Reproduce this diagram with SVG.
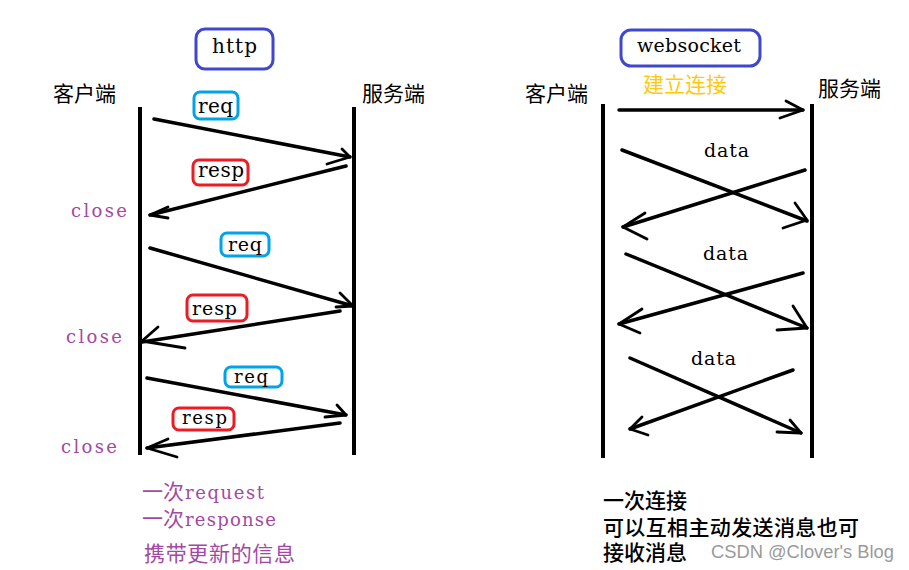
<svg xmlns="http://www.w3.org/2000/svg" width="909" height="570" viewBox="0 0 909 570">
<style>
.lat{font-family:"DejaVu Serif","Liberation Serif",serif;fill:#000}
.cjk{font-family:"Noto Sans CJK SC","Noto Sans",sans-serif;font-size:21px;fill:#000}
.pur{fill:#a349a4}
.life{stroke:#000;stroke-width:4;fill:none}
.ln{stroke:#000;stroke-width:3.5;fill:none;stroke-linecap:round;stroke-linejoin:round}
.hd{stroke:#000;stroke-width:2.8;fill:none;stroke-linecap:round;stroke-linejoin:round}
.title{fill:#fff;stroke:#3f48cc;stroke-width:3}
.req{fill:#fff;stroke:#00a2e8;stroke-width:3}
.resp{fill:#fff;stroke:#ed1c24;stroke-width:3}
</style>
<rect width="909" height="570" fill="#fff"/>

<g id="http-title">
<rect class="title" x="196" y="29" width="77" height="40" rx="9"/>
<text class="lat" x="212" y="53" font-size="20" textLength="45" lengthAdjust="spacing">http</text>
</g>
<g id="http-client">
<text class="cjk" x="53" y="101">客户端</text>
<line class="life" x1="140" y1="107" x2="140" y2="455"/>
</g>
<g id="http-server">
<text class="cjk" x="362" y="101">服务端</text>
<line class="life" x1="354" y1="107" x2="354" y2="455"/>
</g>

<g id="ws-title">
<rect class="title" x="621" y="30" width="139" height="36" rx="10"/>
<text class="lat" x="637" y="52" font-size="19" textLength="104" lengthAdjust="spacing">websocket</text>
</g>
<g id="ws-client">
<text class="cjk" x="525" y="101">客户端</text>
<line class="life" x1="603" y1="104" x2="603" y2="458"/>
</g>
<g id="ws-server">
<text class="cjk" x="818" y="96">服务端</text>
<line class="life" x1="812" y1="104" x2="812" y2="458"/>
</g>

<g id="connectors">
<line class="ln" x1="154" y1="119" x2="350" y2="157"/>
<path class="hd" d="M342,149 L350,157 L327,164"/>
<line class="ln" x1="346" y1="166" x2="150" y2="215"/>
<path class="hd" d="M168,207 L150,215 L168,218"/>
<line class="ln" x1="150" y1="248" x2="353" y2="306"/>
<path class="hd" d="M340,293 L353,306 L336,307"/>
<line class="ln" x1="340" y1="311" x2="142" y2="342"/>
<path class="hd" d="M158,327 L142,341 L185,348"/>
<line class="ln" x1="147" y1="378" x2="346" y2="415"/>
<path class="hd" d="M337,405 L346,415 L325,417"/>
<line class="ln" x1="340" y1="423" x2="147" y2="448"/>
<path class="hd" d="M168,439 L147,448 L177,457"/>

<line class="ln" x1="619" y1="110" x2="803" y2="110"/>
<path class="hd" d="M786,101 L803,110 L780,118"/>
<line class="ln" x1="622" y1="150" x2="807" y2="221"/>
<path class="hd" d="M795,203 L807,220 L783,228"/>
<line class="ln" x1="805" y1="170" x2="623" y2="227"/>
<path class="hd" d="M645,213 L623,227 L647,239"/>
<line class="ln" x1="626" y1="254" x2="807" y2="328"/>
<path class="hd" d="M793,306 L807,328 L777,330"/>
<line class="ln" x1="803" y1="273" x2="619" y2="324"/>
<path class="hd" d="M642,309 L619,324 L640,333"/>
<line class="ln" x1="630" y1="358" x2="801" y2="433"/>
<path class="hd" d="M790,420 L801,433 L777,432"/>
<line class="ln" x1="793" y1="370" x2="630" y2="429"/>
<path class="hd" d="M642,417 L630,429 L648,435"/>
</g>

<g id="req1"><rect class="req" x="194" y="92" width="44" height="27" rx="6"/>
<text class="lat" x="198" y="113" font-size="20" textLength="35" lengthAdjust="spacing">req</text></g>
<g id="resp1"><rect class="resp" x="193" y="160" width="55" height="25" rx="6"/>
<text class="lat" x="198" y="177" font-size="20" textLength="46" lengthAdjust="spacing">resp</text></g>
<g id="req2"><rect class="req" x="221" y="233" width="48" height="23" rx="6"/>
<text class="lat" x="228" y="251" font-size="19" textLength="34" lengthAdjust="spacing">req</text></g>
<g id="resp2"><rect class="resp" x="187" y="295" width="60" height="26" rx="6"/>
<text class="lat" x="192" y="315" font-size="19" textLength="45" lengthAdjust="spacing">resp</text></g>
<g id="req3"><rect class="req" x="225" y="367" width="57" height="20" rx="6"/>
<text class="lat" x="234" y="383" font-size="18" textLength="34" lengthAdjust="spacing">req</text></g>
<g id="resp3"><rect class="resp" x="173" y="408" width="61" height="22" rx="6"/>
<text class="lat" x="182" y="424" font-size="18" textLength="45" lengthAdjust="spacing">resp</text></g>

<g id="close-labels">
<text class="lat pur" x="71" y="217" font-size="18" textLength="56" lengthAdjust="spacing">close</text>
<text class="lat pur" x="66" y="343" font-size="18" textLength="56" lengthAdjust="spacing">close</text>
<text class="lat pur" x="61" y="453" font-size="18" textLength="56" lengthAdjust="spacing">close</text>
</g>

<g id="data-labels">
<text class="lat" x="704" y="157" font-size="19" textLength="45" lengthAdjust="spacing">data</text>
<text class="lat" x="703" y="260" font-size="19" textLength="45" lengthAdjust="spacing">data</text>
<text class="lat" x="691" y="365" font-size="19" textLength="45" lengthAdjust="spacing">data</text>
</g>

<g id="connect-label">
<text class="cjk" x="643" y="92" style="fill:#ffc90e">建立连接</text>
</g>

<g id="http-notes">
<text class="cjk pur" x="142" y="499">一次</text>
<text class="lat pur" x="185" y="499" font-size="18" textLength="79" lengthAdjust="spacing">request</text>
<text class="cjk pur" x="142" y="526">一次</text>
<text class="lat pur" x="185" y="526" font-size="18" textLength="91" lengthAdjust="spacing">response</text>
<text class="cjk pur" x="144" y="561" textLength="151" lengthAdjust="spacing">携带更新的信息</text>
</g>

<g id="ws-notes">
<text class="cjk" x="603" y="508" font-weight="500">一次连接</text>
<text class="cjk" x="603" y="535" font-weight="500" textLength="256" lengthAdjust="spacing">可以互相主动发送消息也可</text>
<text class="cjk" x="603" y="560" font-weight="500">接收消息</text>
</g>

<g id="watermark">
<text x="711" y="558" font-family="Liberation Sans, Arial, sans-serif" font-size="18" fill="#9a9a9a" textLength="183" lengthAdjust="spacingAndGlyphs">CSDN @Clover's Blog</text>
</g>
</svg>
